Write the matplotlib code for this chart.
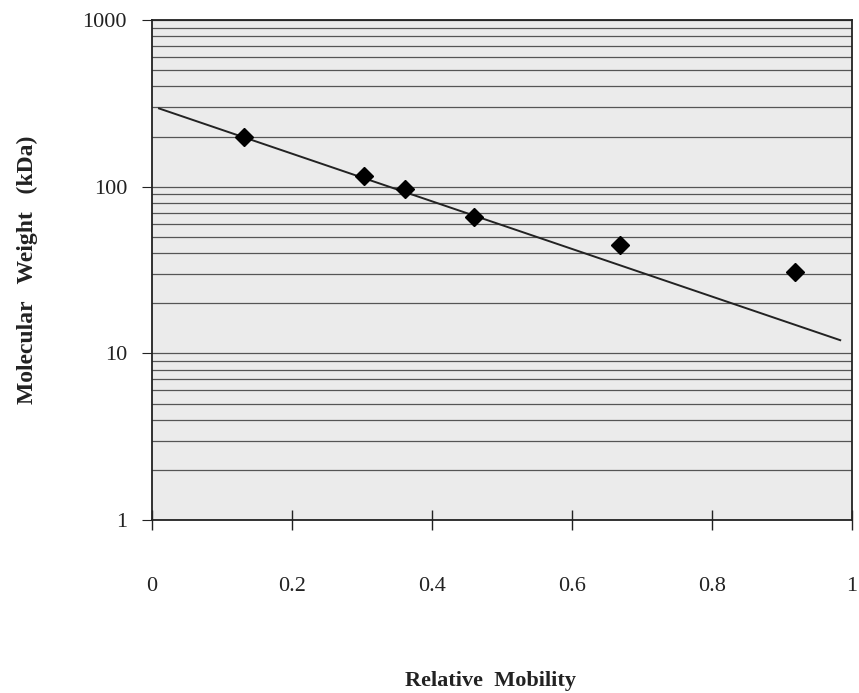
import numpy as np
import matplotlib
matplotlib.use("Agg")
import matplotlib.pyplot as plt
from matplotlib.ticker import LogLocator, FixedLocator, NullFormatter

# standard markers
mobility = [0.131, 0.303, 0.361, 0.460, 0.669, 0.918]
mol_weight = [200, 116, 97, 66, 45, 31]

# drawn regression line (end points)
line_x = [0.01, 0.983]
line_y = [295, 12]

x_ticks = [0, 0.2, 0.4, 0.6, 0.8, 1]
x_labels = ["0", "0.2", "0.4", "0.6", "0.8", "1"]
y_ticks = [1, 10, 100, 1000]
y_labels = ["1", "10", "100", "1000"]

plt.rcParams['font.family'] = ['Liberation Serif', 'DejaVu Serif']

fig = plt.figure(figsize=(8.59, 6.93), dpi=100)
ax = fig.add_axes([0.177, 0.2496, 0.815, 0.7214])
ax.set_facecolor('#ebebeb')

ax.set_yscale('log')
ax.set_xlim(0, 1)
ax.set_ylim(1, 1000)

# horizontal grid at every decade subdivision
ax.yaxis.set_minor_locator(LogLocator(base=10, subs=np.arange(2, 10)))
ax.yaxis.set_minor_formatter(NullFormatter())
ax.grid(True, which='both', axis='y', color='#555555', linewidth=0.9)
ax.set_axisbelow(True)

ax.plot(line_x, line_y, color='#222222', lw=1.4, zorder=3)
ax.plot(mobility, mol_weight, 'D', color='black', markersize=9, zorder=4)

ax.xaxis.set_major_locator(FixedLocator(x_ticks))
ax.set_xticklabels(x_labels)
ax.yaxis.set_major_locator(FixedLocator(y_ticks))
ax.set_yticklabels(y_labels)

ax.tick_params(axis='x', which='major', direction='inout', length=14,
               width=1, pad=34, labelsize=16, colors='#222222')
ax.tick_params(axis='y', which='major', direction='out', length=7,
               width=0.8, pad=11, labelsize=16, colors='#222222')
ax.tick_params(axis='y', which='minor', length=0)

for s in ax.spines.values():
    s.set_color('#222222')
    s.set_linewidth(1.3)

ax.set_xlabel("Relative  Mobility", fontsize=16, fontweight='bold',
              labelpad=54, color='#222222')
ax.xaxis.label.set_x(0.484)
ax.set_ylabel("Molecular   Weight   (kDa)", fontsize=17, fontweight='bold',
              labelpad=32, color='#222222')

fig.savefig("out.png", dpi=100)
